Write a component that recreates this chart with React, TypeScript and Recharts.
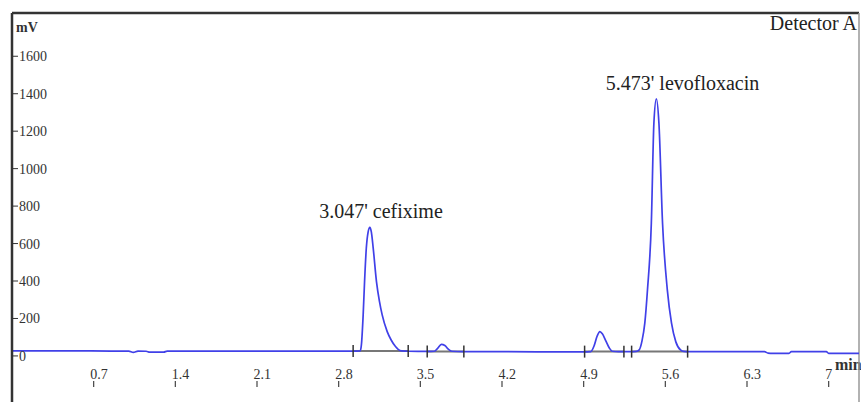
import { ComposedChart, Line, XAxis, YAxis, ReferenceLine, ReferenceDot } from "recharts";

// chromatogram trace, [min, mV]
const baselineStart = [
  [0, 27], [0.5, 27], [0.85, 26], [1.0, 26], [1.04, 19], [1.08, 26], [1.15, 25],
  [1.18, 20], [1.3, 20], [1.33, 26], [1.5, 26], [2.0, 26], [2.5, 26], [2.92, 26],
];
const cefiximeTrace = [
  [2.985, 27], [2.995, 60], [3.01, 219], [3.022, 397], [3.037, 576], [3.052, 660],
  [3.067, 686], [3.08, 662], [3.096, 576], [3.124, 397], [3.15, 290], [3.173, 219],
  [3.216, 130], [3.25, 85], [3.287, 50], [3.31, 35], [3.34, 27], [3.4, 25],
];
const bumpTrace = [
  [3.56, 24], [3.62, 25], [3.65, 42], [3.68, 62], [3.71, 56], [3.74, 36], [3.77, 25], [3.87, 23],
];
const midBaseline = [[4.0, 23], [4.5, 22], [4.9, 22]];
const smallPeakTrace = [
  [4.96, 23], [4.99, 55], [5.015, 105], [5.039, 130], [5.06, 118], [5.09, 80],
  [5.12, 42], [5.145, 25], [5.2, 23], [5.3, 23],
];
const levofloxacinTrace = [
  [5.35, 24], [5.376, 32], [5.4, 80], [5.424, 175], [5.447, 353], [5.48, 710],
  [5.502, 1244], [5.523, 1373], [5.545, 1244], [5.576, 710], [5.617, 353],
  [5.653, 175], [5.69, 75], [5.73, 32], [5.76, 24], [5.8, 23],
];
const baselineEnd = [
  [6.0, 23], [6.45, 23], [6.48, 15], [6.52, 14], [6.66, 14], [6.68, 23],
  [6.98, 23], [7.0, 14], [7.26, 14],
];

// integration windows (start/end markers on the baseline)
const windowStart = [2.924, 3.559, 4.908, 5.311];
const windowEnd = [3.396, 3.873, 5.245, 5.791];
const windowBase = [26, 24, 23, 23];

// annotated peaks
const peakApex = [3.067, 5.523];
const peakHeight = [686, 1373];
const peakTime = ["3.047'", "5.473'"];
const peakName = ["cefixime", "levofloxacin"];

const xTicks = [0.7, 1.4, 2.1, 2.8, 3.5, 4.2, 4.9, 5.6, 6.3, 7];
const yTicks = [0, 200, 400, 600, 800, 1000, 1200, 1400, 1600];

const data = [
  ...baselineStart, ...cefiximeTrace, ...bumpTrace, ...midBaseline,
  ...smallPeakTrace, ...levofloxacinTrace, ...baselineEnd,
].map(([t, mV]) => ({ t, mV }));

const serif = "'Liberation Serif', 'Times New Roman', serif";
const X_MAX = 7.26;
const Y_MIN = -246;
const Y_MAX = 1831;

function XTick({ x, y, payload }: any) {
  return (
    <g>
      <text x={x - 3.5} y={y - 23} fontSize={14} fontFamily={serif} fill="#333">
        {payload.value}
      </text>
      <line x1={x} x2={x} y1={y - 21} y2={y - 15} stroke="#444" strokeWidth={1.2} />
    </g>
  );
}

function YTick({ x, y, payload }: any) {
  return (
    <g>
      <line x1={x} x2={x + 6} y1={y} y2={y} stroke="#333" strokeWidth={1} />
      <text x={x + 7} y={y + 5} fontSize={14} fontFamily={serif} fill="#333">
        {payload.value}
      </text>
    </g>
  );
}

const peakLabel = (time: string, name: string) => (props: any) => {
  const { x, y } = props.viewBox;
  return (
    <g style={{ fontFamily: serif, fontSize: 20 }} fill="#222">
      <text x={x - 2} y={y - 9} textAnchor="end">{time}</text>
      <text x={x + 3} y={y - 9} textAnchor="start">{name}</text>
    </g>
  );
};

export default function App() {
  return (
    <div style={{ position: "absolute", left: 0, top: 0, width: 861, height: 403, background: "#fff" }}>
      <ComposedChart width={861} height={403} data={data} margin={{ top: 13, right: 2, left: 0, bottom: 0 }}>
        <XAxis
          type="number"
          dataKey="t"
          domain={[0, X_MAX]}
          ticks={xTicks}
          interval={0}
          height={1}
          axisLine={false}
          tickLine={false}
          tickSize={0}
          tickMargin={0}
          tick={<XTick />}
          allowDataOverflow
        />
        <YAxis
          type="number"
          domain={[Y_MIN, Y_MAX]}
          ticks={yTicks}
          interval={0}
          width={12}
          axisLine={{ stroke: "#333", strokeWidth: 2.5 }}
          tickLine={false}
          tickSize={0}
          tickMargin={0}
          tick={<YTick />}
          allowDataOverflow
        />
        <ReferenceLine y={Y_MAX} stroke="#333" strokeWidth={2.5} />
        <ReferenceLine x={X_MAX} stroke="#999" strokeWidth={1.5} />
        {windowStart.map((s, i) => (
          <ReferenceLine
            key={"seg" + i}
            segment={[{ x: s, y: windowBase[i] }, { x: windowEnd[i], y: windowBase[i] }]}
            stroke="#777"
            strokeWidth={2}
          />
        ))}
        <Line
          type="monotone"
          dataKey="mV"
          stroke="#4040e8"
          strokeWidth={1.7}
          dot={false}
          isAnimationActive={false}
        />
        {[...windowStart, ...windowEnd].map((t, i) => (
          <ReferenceLine
            key={"mk" + i}
            segment={[{ x: t, y: windowBase[i % 4] - 32 }, { x: t, y: windowBase[i % 4] + 32 }]}
            stroke="#333"
            strokeWidth={1.5}
          />
        ))}
        {peakApex.map((t, i) => (
          <ReferenceDot
            key={"pk" + i}
            x={t}
            y={peakHeight[i]}
            r={0}
            fill="none"
            stroke="none"
            label={peakLabel(peakTime[i], peakName[i])}
          />
        ))}
        <text x={16} y={31.5} style={{ fontFamily: serif, fontSize: 14, fontWeight: "bold" }} fill="#333">mV</text>
        <text x={857} y={30} style={{ fontFamily: serif, fontSize: 20 }} textAnchor="end" fill="#222">Detector A</text>
        <text x={835} y={370} style={{ fontFamily: serif, fontSize: 16, fontWeight: "bold" }} fill="#333">min</text>
      </ComposedChart>
    </div>
  );
}
